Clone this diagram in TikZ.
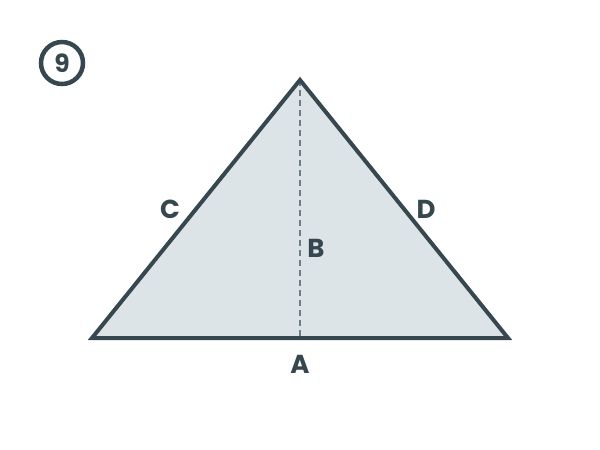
\documentclass[tikz,border=0pt]{standalone}
\usepackage{fontspec}
\setmainfont{Poppins}[UprightFont=* SemiBold, BoldFont=* Bold]
\definecolor{ink}{HTML}{37474F}
\definecolor{fillc}{HTML}{DCE4E8}
\definecolor{dashc}{HTML}{6E7E86}
\begin{document}
\begin{tikzpicture}[x=1pt,y=-1pt,
  lbl/.style={font=\fontsize{26}{26}\selectfont\bfseries, text=ink, inner sep=0pt}]
\useasboundingbox (0,0) rectangle (600,450);
\coordinate (T) at (300,80);
\coordinate (L) at (92,338);
\coordinate (R) at (508,338);
\coordinate (M) at (300,338);
\fill[fillc] (T) -- (L) -- (R) -- cycle;
\draw[dashc, line width=2pt, dash pattern=on 6pt off 4pt] (T) -- (M);
\draw[ink, line width=4pt, line join=miter] (T) -- (L) -- (R) -- cycle;
\node[lbl] (C) at (170,209) {C};
\node[lbl] (D) at (426,209) {D};
\node[lbl] (B) at (316,248) {B};
\node[lbl] (A) at (300,364) {A};
\node[circle, draw=ink, line width=4.5pt, minimum size=42pt, inner sep=0pt,
  font=\fontsize{25}{25}\selectfont\bfseries, text=ink] (n9) at (62,63) {9};
\end{tikzpicture}
\end{document}
